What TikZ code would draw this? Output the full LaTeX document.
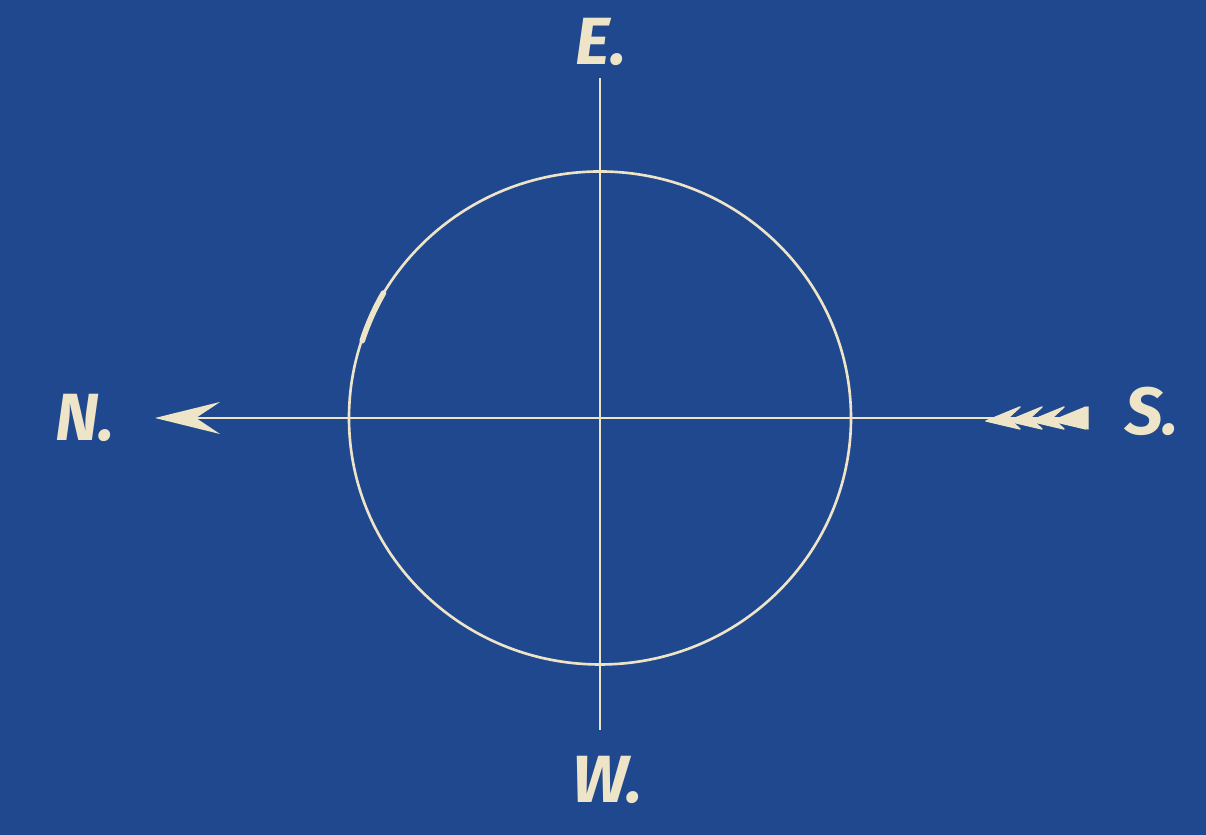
\documentclass[tikz,border=0pt]{standalone}
\usepackage{fontspec}
\setmainfont{Fira Sans}
\usetikzlibrary{positioning,arrows.meta,calc}
\definecolor{blueprint}{RGB}{32,72,142}
\definecolor{chalk}{RGB}{238,228,200}
\tikzset{
  wire/.style={draw=chalk, line width=0.75pt},
  heavy/.style={draw=chalk, line width=1.6pt, line cap=round},
  point/.style={text=chalk, font=\fontsize{19}{21}\selectfont\itshape\bfseries, inner sep=0pt},
  fletch/.style={fill=chalk, draw=chalk, line width=0.4pt, line join=round}
}

\begin{document}
\begin{tikzpicture}
    \fill[blueprint] (0,0) rectangle (12.06,8.35);
    \useasboundingbox (0,0) rectangle (12.06,8.35);

    \coordinate (c0) at (6.00,4.17);
    \coordinate (top)  at (6.00,7.57);
    \coordinate (bot)  at (6.00,1.05);
    \coordinate (ntip) at (1.55,4.17);
    \coordinate (stail) at (10.88,4.17);

    \node[point] (E) at (6.01,7.93) {E.};
    \node[point] (W) at (6.07,0.55) {W.};
    \node[point] (N) at (0.85,4.17) {N.};
    \node[point] (S) at (11.52,4.24) {S.};

    \draw[wire] (c0) ellipse (2.51 and 2.465);
    \draw[heavy] ($(c0)+(162:2.5)$) arc (162:150:2.5);
    \draw[wire] (top) -- (bot);
    \draw[wire, -{Stealth[length=6.5mm,width=3.2mm,inset=2.4mm,fill=chalk]}] (stail) -- (ntip);

    % feathers
    \foreach \i in {0,...,3}
      \filldraw[fletch] ($(stail)+(-1.02+\i*0.22,-0.03)$) -- ++(0.34,0.14) -- ++(-0.12,-0.11) -- ++(0.12,-0.11) -- cycle;
    \filldraw[fletch] (stail) -- ++(0,0.11) -- ++(-0.16,-0.11) -- ++(0.16,-0.11) -- cycle;
\end{tikzpicture}
\end{document}
